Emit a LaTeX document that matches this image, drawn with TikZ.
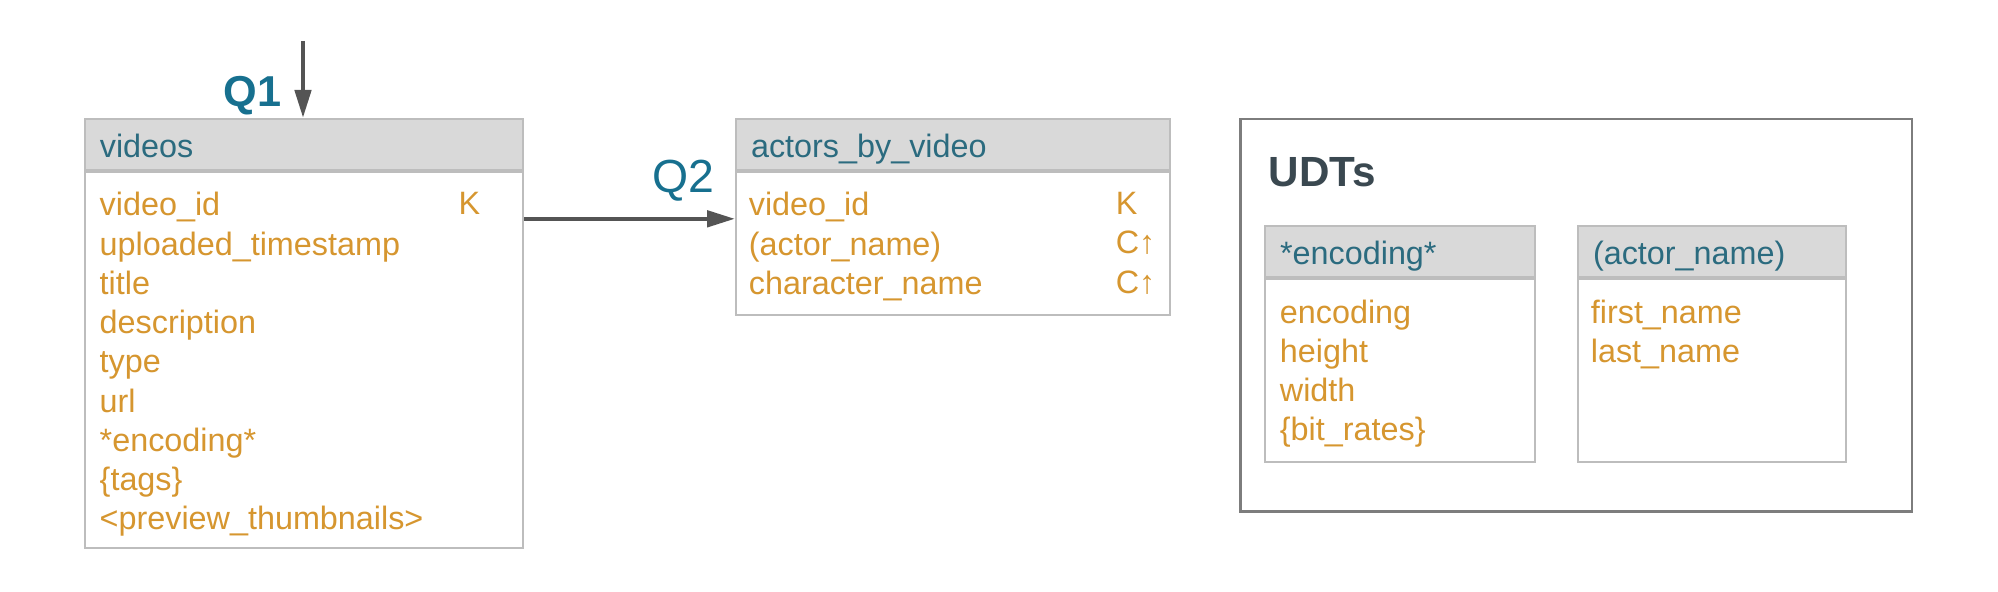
\documentclass[tikz,border=0pt]{standalone}
\usepackage{fontspec}
\setmainfont{Liberation Sans}
\usepackage{tikz}
\usetikzlibrary{positioning, arrows.meta}
\definecolor{tblgray}{HTML}{D9D9D9}
\definecolor{tblborder}{HTML}{BDBDBD}
\definecolor{udtborder}{HTML}{7D7D7D}
\definecolor{headteal}{HTML}{2B6B7F}
\definecolor{qteal}{HTML}{17708F}
\definecolor{fieldgold}{HTML}{D6962F}
\definecolor{arrowgray}{HTML}{545454}
\definecolor{udtslate}{HTML}{3A4850}
\tikzset{
  >={Triangle[length=0.28cm, width=0.16cm]},
  every node/.style={font=\fontsize{9.2}{11.15}\selectfont},
  tblhead/.style={
    rectangle, draw=tblborder, fill=tblgray, line width=0.5pt,
    text width=#1, inner xsep=0.15cm, inner ysep=0pt, align=left,
    minimum height=0.51cm, text height=0.3cm, text depth=0.04cm,
    text=headteal
  },
  tblbody/.style={
    rectangle, draw=tblborder, fill=white, line width=0.5pt,
    minimum width=#1
  },
  fields/.style={inner sep=0pt, align=left, text=fieldgold},
  keys/.style={anchor=north west, inner sep=0pt, align=left, text=fieldgold},
  udtbox/.style={
    rectangle, draw=udtborder, line width=0.7pt,
    minimum width=6.71cm, minimum height=3.92cm
  },
  udttitle/.style={inner sep=0pt, text=udtslate,
    font=\fontsize{12}{14}\selectfont\bfseries},
  qlabel/.style={inner sep=0pt, text=qteal},
  qarrow/.style={->, draw=arrowgray, line width=1.3pt}
}

\begin{document}
\begin{tikzpicture}[x=0.01cm, y=-0.01cm]
\useasboundingbox (0,0) rectangle (1998,591);

% videos table
\node[tblhead=4.08cm, anchor=north west] (vid-h) at (84,118) {videos};
\node[tblbody=4.38cm, minimum height=3.76cm, below=0pt of vid-h] (vid-b) {};
\node[fields, below right=0.21cm and 0.15cm of vid-b.north west] (vid-f)
  {video\_id\\uploaded\_timestamp\\title\\description\\type\\url\\{}*encoding*\\\{tags\}\\<preview\_thumbnails>};
\node[keys] (vid-k) at ([xshift=-0.66cm, yshift=-0.21cm]vid-b.north east) {K};

% actors_by_video table
\node[tblhead=4.04cm, right=2.11cm of vid-h] (act-h) {actors\_by\_video};
\node[tblbody=4.34cm, minimum height=1.43cm, below=0pt of act-h] (act-b) {};
\node[fields, below right=0.21cm and 0.13cm of act-b.north west] (act-f)
  {video\_id\\(actor\_name)\\character\_name};
\node[keys] (act-k) at ([xshift=-0.56cm, yshift=-0.21cm]act-b.north east) {K\\C↑\\C↑};

% UDT panel
\node[udtbox, anchor=north west] (udt) at ([xshift=0.68cm]act-h.north east) {};
\node[udttitle, below right=0.39cm and 0.29cm of udt.north west] (udt-t) {UDTs};

\node[tblhead=2.40cm, below right=1.07cm and 0.25cm of udt.north west] (enc-h) {*encoding*};
\node[tblbody=2.70cm, minimum height=1.83cm, below=0pt of enc-h] (enc-b) {};
\node[fields, below right=0.21cm and 0.15cm of enc-b.north west] (enc-f)
  {encoding\\height\\width\\\{bit\_rates\}};

\node[tblhead=2.38cm, right=0.41cm of enc-h] (nm-h) {(actor\_name)};
\node[tblbody=2.68cm, minimum height=1.83cm, below=0pt of nm-h] (nm-b) {};
\node[fields, below right=0.21cm and 0.13cm of nm-b.north west] (nm-f)
  {first\_name\\last\_name};

% queries
\coordinate (q1start) at (303,41);
\coordinate (q1end) at (q1start |- vid-h.north);
\draw[qarrow] (q1start) -- (q1end);
\node[qlabel, font=\fontsize{12.3}{14}\selectfont\bfseries,
  above left=0.02cm and 0.21cm of q1end] (q1) {Q1};

\coordinate (q2end) at ([yshift=-0.48cm]act-b.north west);
\draw[qarrow] (vid-b.east |- q2end) -- (q2end);
\node[qlabel, font=\fontsize{13.2}{15}\selectfont,
  above left=0.17cm and 0.2cm of q2end] (q2) {Q2};
\end{tikzpicture}
\end{document}
